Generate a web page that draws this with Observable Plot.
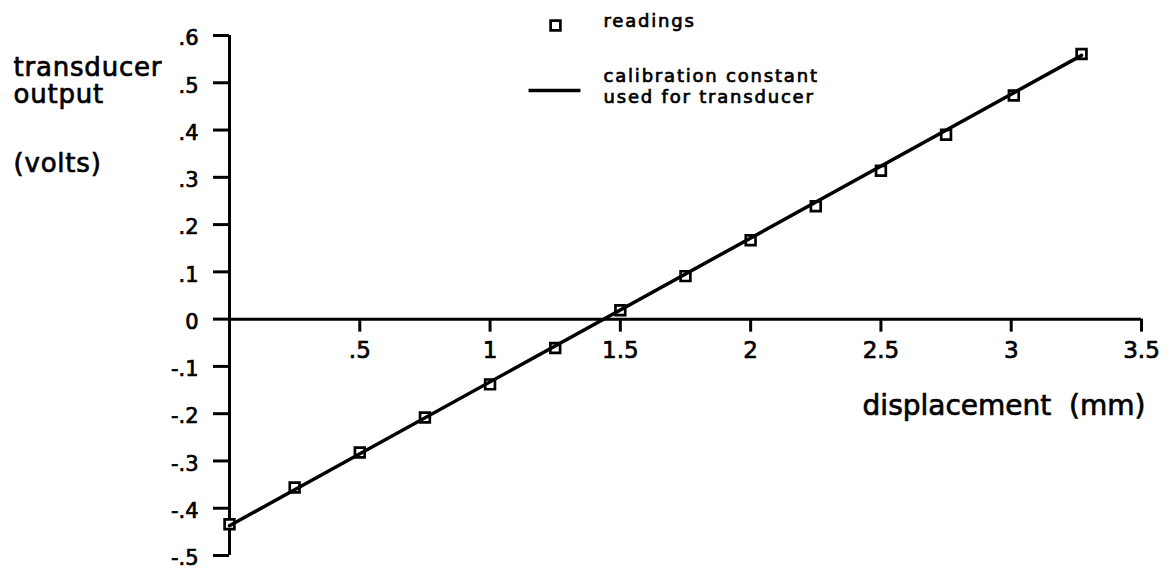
<!DOCTYPE html>
<html>
<head>
<meta charset="utf-8">
<script src="https://cdn.jsdelivr.net/npm/d3@7"></script>
<script src="https://cdn.jsdelivr.net/npm/@observablehq/plot@0.6"></script>
<style>
  html, body { margin: 0; padding: 0; background: #fff; }
  /* slightly heavier lettering, like a pen plotter */
  svg text { stroke: #000; stroke-width: 0.7px; paint-order: stroke; }
  .wide text { letter-spacing: 1.8px; }
  .title text { letter-spacing: 0.8px; }
</style>
</head>
<body>
<div id="chart"></div>
<script>
// Transducer calibration: measured readings against displacement
const displacement = [0, 0.25, 0.5, 0.75, 1.0, 1.25, 1.5, 1.75, 2.0, 2.25, 2.5, 2.75, 3.01, 3.27];
const outputVolts  = [-0.434, -0.356, -0.282, -0.208, -0.138, -0.061, 0.019, 0.091, 0.167, 0.239, 0.314, 0.39, 0.473, 0.561];

// Calibration constant line (end points)
const calDisplacement = [0, 3.27];
const calVolts = [-0.437, 0.558];

// Axis ticks and their printed labels
const xTickValues = [0.5, 1, 1.5, 2, 2.5, 3, 3.5];
const xTickLabels = [".5", "1", "1.5", "2", "2.5", "3", "3.5"];
const yTickValues = [0.6, 0.5, 0.4, 0.3, 0.2, 0.1, 0, -0.1, -0.2, -0.3, -0.4, -0.5];
const yTickLabels = [".6", ".5", ".4", ".3", ".2", ".1", "0", "-.1", "-.2", "-.3", "-.4", "-.5"];

const yTitle = ["transducer", "output", "(volts)"];
const xTitle = "displacement\u00a0\u00a0(mm)";
const legendLabels = ["readings", "calibration constant", "used for transducer"];

const readings = displacement.map((x, i) => ({x, y: outputVolts[i]}));
const calibration = calDisplacement.map((x, i) => ({x, y: calVolts[i]}));
const xTicks = xTickValues.map((v, i) => ({v, label: xTickLabels[i]}));
const yTicks = yTickValues.map((v, i) => ({v, label: yTickLabels[i]}));

const FONT = "DejaVu Sans";
const INK = "#000";

// horizontal stroke used as the legend swatch for the line
const dash = {
  draw(context, size) {
    const w = Math.sqrt(size);
    context.moveTo(-w / 2, 0);
    context.lineTo(w / 2, 0);
  }
};

// a single label pinned to the frame's top-left corner
const note = (label, dx, dy, fontSize, className) =>
  Plot.text([label], {frameAnchor: "top-left", text: d => d, textAnchor: "start", lineAnchor: "top", dx, dy, fontSize, fill: INK, className});

const chart = Plot.plot({
  width: 1175,
  height: 570,
  marginLeft: 229,
  marginRight: 34,
  marginTop: 35,
  marginBottom: 15,
  x: {domain: [0, 3.5], axis: null},
  y: {domain: [-0.5, 0.6], axis: null},
  style: {fontFamily: FONT, color: INK, background: "#fff", overflow: "visible"},
  marks: [
    // vertical axis with ticks pointing left
    Plot.ruleX([0], {y1: -0.5, y2: 0.6, stroke: INK, strokeWidth: 3}),
    Plot.ruleY(yTicks, {y: "v", x1: 0, x2: 0, insetLeft: -16, stroke: INK, strokeWidth: 3}),
    Plot.text(yTicks, {x: 0, y: "v", text: "label", textAnchor: "end", dx: -31, dy: 3, fontSize: 21, fill: INK}),

    // horizontal axis along zero volts with ticks pointing down
    Plot.ruleY([0], {x1: 0, x2: 3.5, stroke: INK, strokeWidth: 3}),
    Plot.ruleX(xTicks, {x: "v", y1: 0, y2: 0, insetBottom: -13, stroke: INK, strokeWidth: 3}),
    Plot.text(xTicks, {x: "v", y: 0, text: "label", dy: 31, fontSize: 23, fill: INK}),

    // axis titles
    note(yTitle[0], -216, 22, 26, "title"),
    note(yTitle[1], -216, 49, 26, "title"),
    note(yTitle[2], -216, 118, 26, "title"),
    Plot.text([xTitle], {x: 3.5, y: 0, text: d => d, textAnchor: "end", dx: 4, dy: 87, fontSize: 28, fill: INK}),

    // data
    Plot.dot(readings, {x: "x", y: "y", symbol: "square", r: 5.5, stroke: INK, fill: "#fff", strokeWidth: 2.7}),
    Plot.line(calibration, {x: "x", y: "y", stroke: INK, strokeWidth: 3.5}),

    // legend
    Plot.dot([legendLabels[0]], {frameAnchor: "top-left", dx: 326, dy: -10, symbol: "square", r: 5.5, stroke: INK, fill: "#fff", strokeWidth: 2.7}),
    note(legendLabels[0], 374, -21, 18, "wide"),
    Plot.dot([legendLabels[1]], {frameAnchor: "top-left", dx: 325, dy: 55, symbol: dash, r: 29.3, stroke: INK, fill: "none", strokeWidth: 3.5}),
    note(legendLabels[1], 374, 34, 18, "wide"),
    note(legendLabels[2], 374, 55, 18, "wide")
  ]
});

document.getElementById("chart").appendChild(chart);
</script>
</body>
</html>
